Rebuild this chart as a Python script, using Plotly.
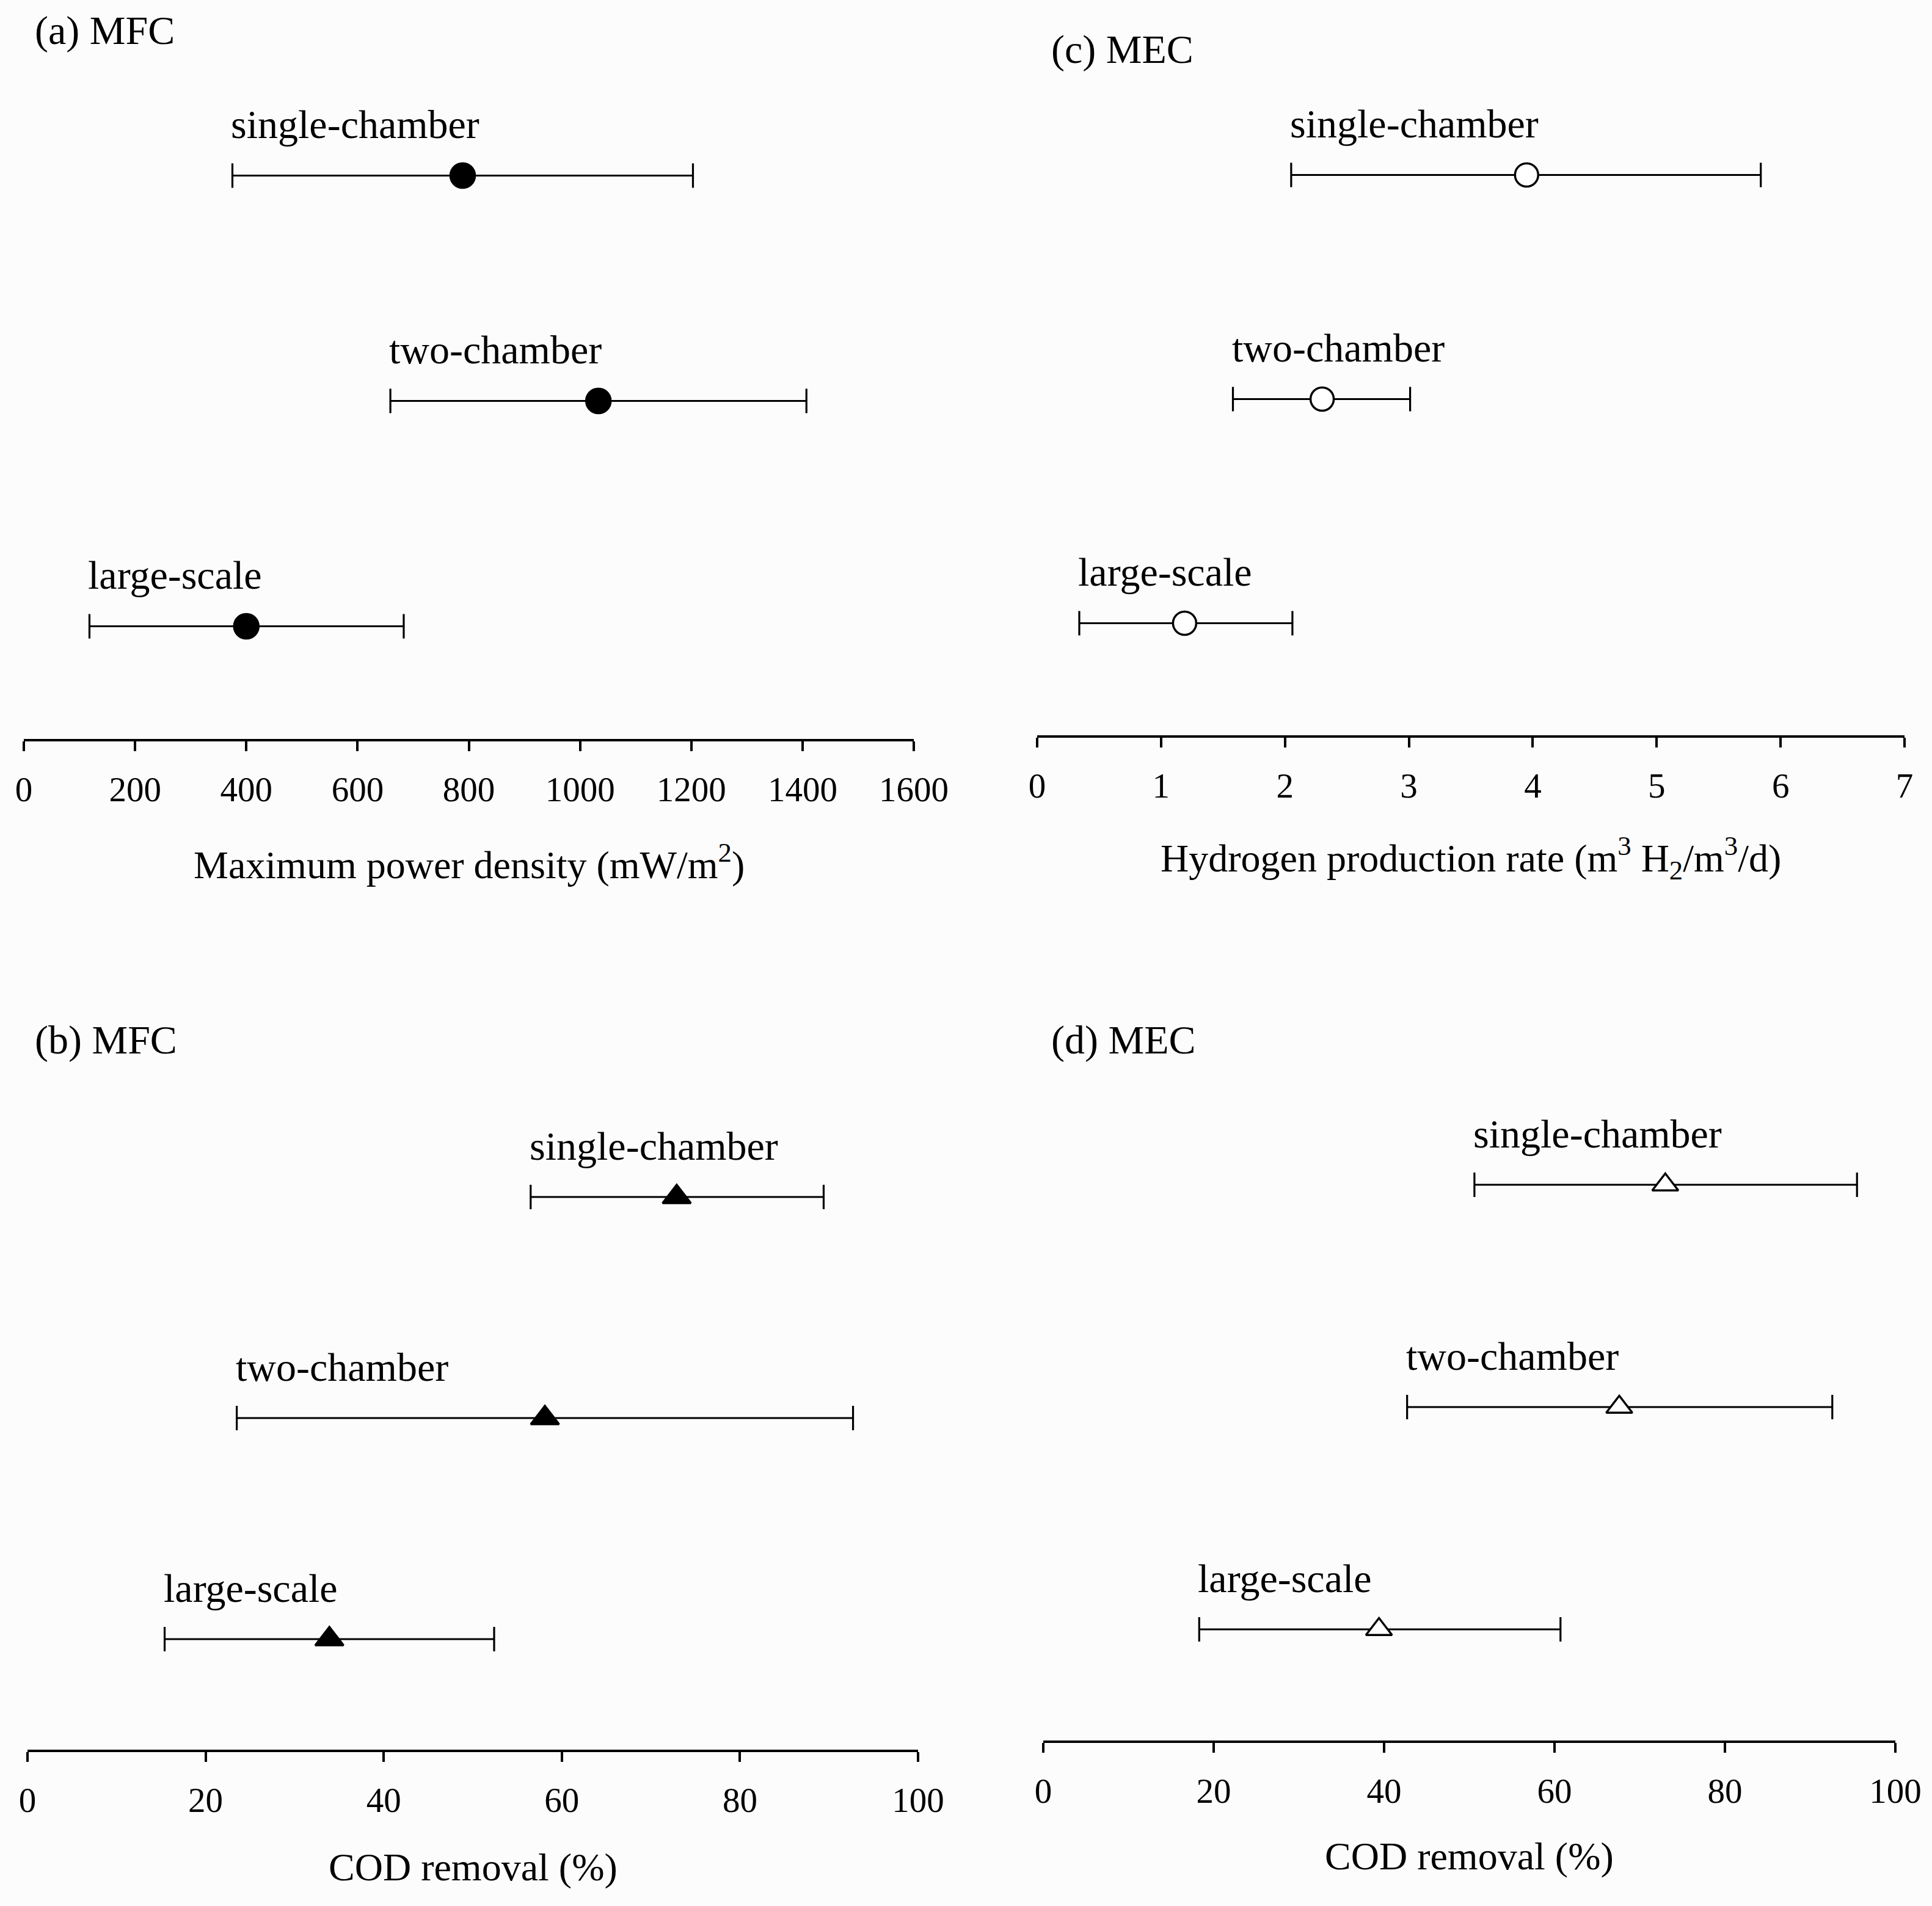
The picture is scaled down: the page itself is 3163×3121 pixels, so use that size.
import plotly.graph_objects as go

categories = ["single-chamber", "two-chamber", "large-scale"]

# (a) MFC maximum power density (mW/m2)
mfc_power_mean = [789, 1033, 400]
mfc_power_low = [375, 659, 118]
mfc_power_high = [1203, 1407, 683]

# (b) MFC COD removal (%)
mfc_cod_mean = [72.9, 58.1, 33.9]
mfc_cod_low = [56.5, 23.5, 15.4]
mfc_cod_high = [89.4, 92.7, 52.4]

# (c) MEC hydrogen production rate (m3 H2/m3/d)
mec_h2_mean = [3.95, 2.30, 1.19]
mec_h2_low = [2.05, 1.58, 0.34]
mec_h2_high = [5.84, 3.01, 2.06]

# (d) MEC COD removal (%)
mec_cod_mean = [73.0, 67.6, 39.4]
mec_cod_low = [50.6, 42.7, 18.3]
mec_cod_high = [95.5, 92.6, 60.7]

panel_titles = ["(a) MFC", "(b) MFC", "(c) MEC", "(d) MEC"]
axis_titles = [
    "Maximum power density (mW/m<sup>2</sup>)",
    "COD removal (%)",
    "Hydrogen production rate (m<sup>3</sup> H<sub>2</sub>/m<sup>3</sup>/d)",
    "COD removal (%)",
]
x_ticks = [
    [0, 200, 400, 600, 800, 1000, 1200, 1400, 1600],
    [0, 20, 40, 60, 80, 100],
    [0, 1, 2, 3, 4, 5, 6, 7],
    [0, 20, 40, 60, 80, 100],
]

FONT = "Liberation Serif, Times New Roman, serif"
W, H = 3163, 3121

panels = [
    dict(mean=mfc_power_mean, low=mfc_power_low, high=mfc_power_high,
         symbol="circle", fill="black", size=40, rng=[0, 1600],
         xdom=[39 / W, 1496 / W], ydom=[1 - 1210 / H, 1 - 103 / H],
         title_xy=(55 / W, 1 - 50 / H), atitle_shift=-201),
    dict(mean=mfc_cod_mean, low=mfc_cod_low, high=mfc_cod_high,
         symbol="triangle-up", fill="black", size=40, rng=[0, 100],
         xdom=[45 / W, 1503 / W], ydom=[1 - 2865 / H, 1 - 1779 / H],
         title_xy=(55 / W, 1 - 1703 / H), atitle_shift=-192),
    dict(mean=mec_h2_mean, low=mec_h2_low, high=mec_h2_high,
         symbol="circle", fill="white", size=38, rng=[0, 7],
         xdom=[1698 / W, 3118 / W], ydom=[1 - 1204 / H, 1 - 103 / H],
         title_xy=(1719 / W, 1 - 81 / H), atitle_shift=-201),
    dict(mean=mec_cod_mean, low=mec_cod_low, high=mec_cod_high,
         symbol="triangle-up", fill="white", size=37, rng=[0, 100],
         xdom=[1708 / W, 3103 / W], ydom=[1 - 2850 / H, 1 - 1758 / H],
         title_xy=(1719 / W, 1 - 1703 / H), atitle_shift=-189),
]

fig = go.Figure()
annotations = []
layout_axes = {}

for i, p in enumerate(panels):
    n = "" if i == 0 else str(i + 1)
    xa, ya = "x" + n, "y" + n
    plus = [h - m for h, m in zip(p["high"], p["mean"])]
    minus = [m - l for m, l in zip(p["mean"], p["low"])]
    fig.add_trace(go.Scatter(
        x=p["mean"], y=categories, mode="markers", xaxis=xa, yaxis=ya,
        marker=dict(symbol=p["symbol"], size=p["size"], color=p["fill"],
                    line=dict(color="black", width=3.5)),
        error_x=dict(type="data", symmetric=False, array=plus, arrayminus=minus,
                     color="black", thickness=3.2, width=20),
        showlegend=False, hoverinfo="x+y",
    ))
    layout_axes["xaxis" + n] = dict(
        domain=p["xdom"], anchor=ya, range=p["rng"], tickvals=x_ticks[i],
        showline=True, linecolor="black", linewidth=3.5, ticks="outside",
        ticklen=16, tickwidth=3.5, tickcolor="black", showgrid=False,
        zeroline=False, tickfont=dict(family=FONT, size=57, color="black"),
        ticklabelstandoff=14, automargin=False,
    )
    layout_axes["yaxis" + n] = dict(
        domain=p["ydom"], anchor=xa, type="category",
        categoryorder="array", categoryarray=categories[::-1],
        range=[-0.5, 2.5], visible=False, automargin=False,
    )
    # category labels
    for cat, lo in zip(categories, p["low"]):
        annotations.append(dict(
            x=lo, y=cat, xref=xa, yref=ya, text=cat, showarrow=False,
            xanchor="left", yanchor="middle", yshift=84, xshift=-4,
            font=dict(family=FONT, size=66, color="black"),
        ))
    # panel title
    annotations.append(dict(
        x=p["title_xy"][0], y=p["title_xy"][1], xref="paper", yref="paper",
        text=panel_titles[i], showarrow=False, xanchor="left", yanchor="middle",
        font=dict(family=FONT, size=66, color="black"),
    ))
    # axis title
    annotations.append(dict(
        x=0.5, y=0, xref=xa + " domain", yref=ya + " domain",
        text=axis_titles[i], showarrow=False, xanchor="center", yanchor="middle",
        yshift=p["atitle_shift"],
        font=dict(family=FONT, size=64, color="black"),
    ))

fig.update_layout(
    width=W, height=H, margin=dict(l=0, r=0, t=0, b=0, pad=0, autoexpand=False),
    paper_bgcolor="#fdfcfc", plot_bgcolor="#fdfcfc",
    annotations=annotations, **layout_axes,
)

fig.write_html(
    "out.html",
    config={"displayModeBar": False},
    post_script="document.body.style.margin='0';document.body.style.overflow='hidden';",
)
